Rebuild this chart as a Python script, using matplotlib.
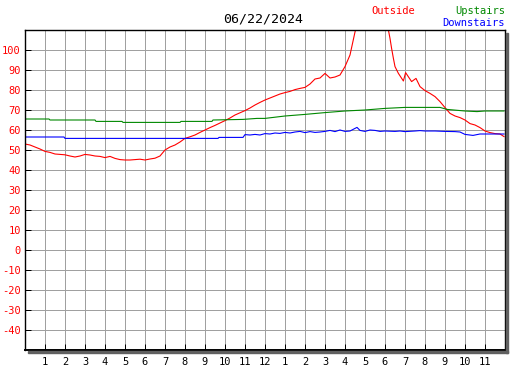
#!/usr/bin/env python3

import matplotlib
matplotlib.use("Agg")
import matplotlib.pyplot as plt
from matplotlib.patches import Rectangle

# hours since midnight and temperatures (F)
out_h = [0, 0.25, 0.5, 0.75, 1, 1.25, 1.5, 1.75, 2, 2.25, 2.5, 2.75, 3, 3.25, 3.5,
         3.75, 4, 4.25, 4.5, 4.75, 5, 5.25, 5.5, 5.75, 6, 6.25, 6.5, 6.75, 7, 7.25,
         7.5, 7.75, 8, 8.25, 8.5, 8.75, 9, 9.25, 9.5, 9.75, 10, 10.25, 10.5, 10.75,
         11, 11.25, 11.5, 11.75, 12, 12.25, 12.5, 12.75, 13, 13.25, 13.5, 13.75, 14,
         14.25, 14.5, 14.75, 15, 15.25, 15.5, 15.75, 16, 16.25, 16.5, 16.75, 17,
         17.5, 18, 18.17, 18.25, 18.33, 18.42, 18.5, 18.67, 18.92, 19.03, 19.33,
         19.55, 19.75, 20, 20.25, 20.5, 20.75, 21, 21.25, 21.5, 21.75, 22, 22.25,
         22.5, 22.75, 23, 23.25, 23.5, 23.75, 23.95]
outside = [53, 52.5, 51.5, 50.5, 49.3, 48.8, 48, 47.8, 47.6, 47, 46.5, 47, 47.8,
           47.5, 47, 46.8, 46.2, 46.8, 45.8, 45.2, 45, 45, 45.2, 45.4, 45, 45.5,
           45.9, 47, 50, 51.5, 52.5, 54, 55.8, 56.6, 57.5, 58.8, 60, 61.2, 62.3,
           63.5, 64.7, 66, 67.5, 68.6, 69.7, 71, 72.5, 73.8, 75, 76, 77, 78, 78.7,
           79.3, 80.2, 80.8, 81.3, 83, 85.5, 86, 88.3, 86, 86.5, 87.5, 91.7, 97.5,
           109, 118, 125, 130, 118, 110, 105.8, 100.8, 95.8, 91.7, 88.3, 84.5, 88.7,
           84.2, 85.8, 81.7, 79.7, 78.3, 76.7, 74.2, 71.2, 68.3, 67, 66.2, 65, 63.2,
           62.5, 61.2, 59.5, 58.7, 58.2, 58, 56.7]

up_h = [0, 1.2, 1.25, 3.5, 3.55, 4.85, 4.9, 7.75, 7.8, 9.35, 9.4, 10.9, 11.6, 12,
        13, 14, 15, 16, 17, 18, 19, 20.75, 21.1, 22, 22.6, 23, 23.95]
upstairs = [65.5, 65.5, 65, 65, 64.3, 64.3, 63.8, 63.8, 64.3, 64.3, 65, 65.3, 65.8,
            65.8, 67, 67.8, 68.7, 69.5, 70, 70.8, 71.3, 71.3, 70.3, 69.5, 69.2,
            69.5, 69.5]

down_h = [0, 1.95, 2, 9.65, 9.7, 10.9, 11, 11.25, 11.5, 11.75, 12, 12.25, 12.5,
          12.75, 13, 13.25, 13.5, 13.75, 14, 14.25, 14.5, 14.75, 15, 15.25, 15.5,
          15.75, 16, 16.25, 16.5, 16.6, 16.75, 17, 17.25, 17.5, 17.75, 18, 18.5,
          18.75, 19, 19.5, 19.75, 20, 20.5, 21, 21.5, 21.75, 22, 22.4, 22.75, 23.95]
downstairs = [56.5, 56.5, 55.8, 55.8, 56.3, 56.3, 57.7, 57.5, 57.8, 57.5, 58.2, 58,
              58.5, 58.3, 58.8, 58.5, 59, 59.3, 58.7, 59.2, 58.8, 59, 59.3, 59.8,
              59.2, 60, 59.3, 59.5, 60.8, 61.3, 59.8, 59.3, 60, 59.8, 59.3, 59.5,
              59.3, 59.5, 59.2, 59.5, 59.7, 59.5, 59.5, 59.3, 59.2, 59, 57.8, 57.3,
              58, 58]

hour_ticks = list(range(1, 24))
hour_labels = [str(h if h <= 12 else h - 12) for h in hour_ticks]
temp_ticks = list(range(-40, 101, 10))

W, H = 527, 370
PX = 0.72  # one pixel in points at 100 dpi
fig = plt.figure(figsize=(W / 100, H / 100), dpi=100)
L, R, T, B = 25, 505, 30, 350
ax = fig.add_axes([L / W, (H - B) / H, (R - L) / W, (B - T) / H])

# drop shadow right and bottom of the plot box
fig.patches.append(Rectangle(((R + 1) / W, (H - B - 3) / H), 2 / W, (B - T) / H,
                             transform=fig.transFigure, color="#606060", zorder=0))
fig.patches.append(Rectangle(((L + 3) / W, (H - B - 3) / H), (R - L) / W, 2 / H,
                             transform=fig.transFigure, color="#606060", zorder=0))

ax.plot(out_h, outside, color="red", lw=0.8)
ax.plot(up_h, upstairs, color="#008800", lw=0.8)
ax.plot(down_h, downstairs, color="blue", lw=0.8)

ax.set_xlim(0, 24)
ax.set_ylim(-50, 110)
ax.set_xticks(hour_ticks)
ax.set_xticklabels(hour_labels)
ax.set_yticks(temp_ticks)
ax.set_yticklabels([str(t) for t in temp_ticks])
ax.grid(True, color="#a0a0a0", lw=PX)
ax.set_axisbelow(True)
ax.tick_params(direction="in", length=4, width=PX, color="black",
               labelsize=7.5, pad=3)
ax.tick_params(axis="y", labelcolor="red")
ax.tick_params(axis="x", pad=5)
for lab in ax.get_xticklabels() + ax.get_yticklabels():
    lab.set_family("DejaVu Sans Mono")
for s in ax.spines.values():
    s.set_linewidth(1)
    s.set_color("black")
ax.spines["bottom"].set_linewidth(1.4)

fm = "DejaVu Sans Mono"
fig.text(263 / W, 1 - 19 / H, "06/22/2024", ha="center", va="center",
         fontsize=9.5, family=fm)
fig.text(393 / W, 1 - 11 / H, "Outside", ha="center", va="center",
         fontsize=7.5, family=fm, color="red")
fig.text(505 / W, 1 - 11 / H, "Upstairs", ha="right", va="center",
         fontsize=7.5, family=fm, color="#008800")
fig.text(505 / W, 1 - 23 / H, "Downstairs", ha="right", va="center",
         fontsize=7.5, family=fm, color="blue")

fig.savefig("out.png", dpi=100)
